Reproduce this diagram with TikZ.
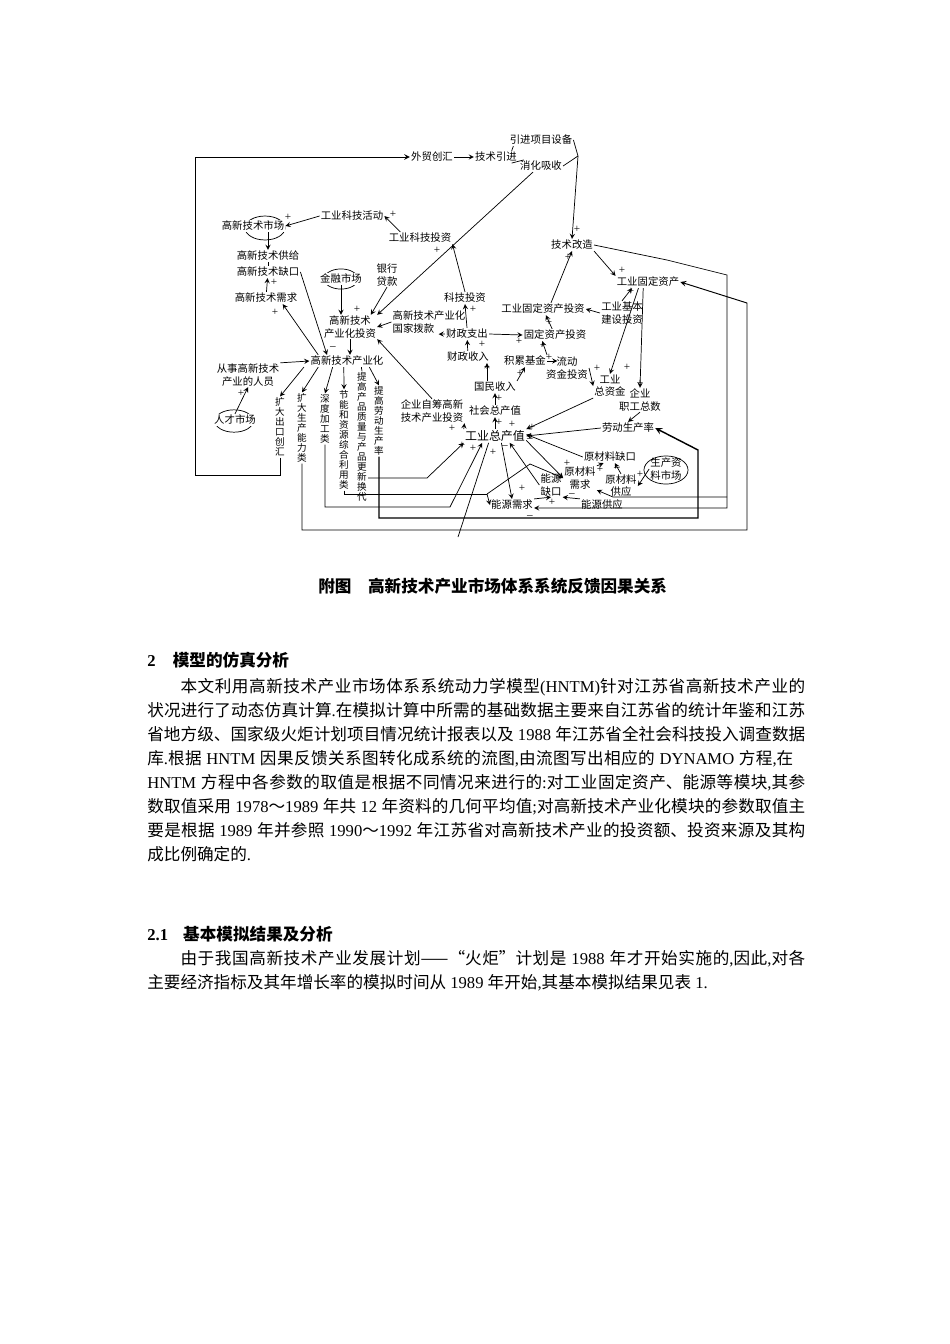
\documentclass[tikz,border=0pt]{standalone}
\usepackage{fontspec}
\setmainfont{Liberation Serif}
\newfontfamily\cjk{Noto Sans CJK SC}
\newXeTeXintercharclass\cjkcls
\newcount\cc
\cc="4E00
\loop\XeTeXcharclass\cc=\cjkcls\advance\cc by 1 \ifnum\cc<"A000 \repeat
\XeTeXinterchartoks\cjkcls\cjkcls={\hskip0pt plus 1pt\relax}
\XeTeXinterchartokenstate=1
\hbadness=10000
\newcommand{\lat}[1]{{\rmfamily #1}}
\newlength{\tw}\setlength{\tw}{412.1pt}

\begin{document}
\begin{tikzpicture}[x=0.6263pt,y=-0.6263pt,
    var/.style={font=\cjk\fontsize{6.5}{7.6}\selectfont,align=center,inner sep=0.6pt},
    vvar/.style={font=\cjk\fontsize{6}{6.25}\selectfont,align=center,inner sep=0.6pt},
    mkt/.style={var,fill=white},
    sgn/.style={font=\fontsize{7}{7}\selectfont,inner sep=0pt},
    lnk/.style={->,>=stealth,line width=0.45pt},
    wire/.style={line width=0.45pt},
    txt/.style={anchor=base west,inner sep=0pt,font=\cjk\fontsize{10.4}{12}\selectfont},
    hd/.style={txt,font=\cjk\bfseries\fontsize{10.4}{12}\selectfont}]

\useasboundingbox (0,0) rectangle (950,1344);

% markets
\draw[wire] (265,228) ellipse (12.5pt and 7.5pt);
\draw[wire] (341,279) ellipse (10.6pt and 6.3pt);
\draw[wire] (234,421) ellipse (12pt and 7pt);
\draw[wire] (666,470) ellipse (13.8pt and 8.8pt);

\node[var] (waimao) at (432,157) {外贸创汇};
\node[var] (jsyj) at (496,157) {技术引进};
\node[var] (yjsb) at (541,140) {引进项目设备};
\node[var] (xhxs) at (541,166) {消化吸收};
\node[var] (jsgz) at (572,245) {技术改造};
\node[var] (gygdzc) at (648,282) {工业固定资产};
\node[mkt] (gxjssc) at (253,226) {高新技术市场};
\node[var] (gykjhd) at (352,216) {工业科技活动};
\node[var] (gykjtz) at (420,238) {工业科技投资};
\node[var] (gxjsgj) at (268,256) {高新技术供给};
\node[var] (gxjsqk) at (268,272) {高新技术缺口};
\node[var] (gxjsxq) at (266,298) {高新技术需求};
\node[mkt] (jrsc) at (341,279) {金融市场};
\node[var] (yhdk) at (387,275) {银行\\贷款};
\node[var] (gxtz) at (350,327) {高新技术\\产业化投资};
\node[var,align=left] (gjbk) at (429,322) {高新技术产业化\\国家拨款};
\node[var] (kjtz) at (465,298) {科技投资};
\node[var] (czzc) at (467,334) {财政支出};
\node[var] (czsr) at (468,357) {财政收入};
\node[var] (gdzctz) at (543,309) {工业固定资产投资};
\node[var] (jbjs) at (622,313) {工业基本\\建设投资};
\node[var] (gdtz) at (555,335) {固定资产投资};
\node[var] (jljj) at (525,361) {积累基金};
\node[var] (ldzj) at (567,368) {流动\\资金投资};
\node[var] (gyzzj) at (610,386) {工业\\总资金};
\node[var] (qyzg) at (640,400) {企业\\职工总数};
\node[var] (gmsr) at (495,387) {国民收入};
\node[var] (shzcz) at (495,411) {社会总产值};
\node[var] (qyzc) at (432,411) {企业自筹高新\\技术产业投资};
\node[var,font=\cjk\fontsize{7.5}{8}\selectfont] (gyzcz) at (495,436) {工业总产值};
\node[var] (ldscl) at (628,428) {劳动生产率};
\node[var] (ycqk) at (610,457) {原材料缺口};
\node[var] (sczl) at (666,469) {生产资\\料市场};
\node[var] (ycxq) at (580,478) {原材料\\需求};
\node[var] (nyqk) at (551,485) {能源\\缺口};
\node[var] (ycgy) at (621,486) {原材料\\供应};
\node[var] (nyxq) at (512,505) {能源需求};
\node[var] (nygy) at (602,505) {能源供应};
\node[var] (gxcyh) at (347,361) {高新技术产业化};
\node[var] (csry) at (248,375) {从事高新技术\\产业的人员};
\node[mkt] (rcsc) at (235,420) {人才市场};
\node[vvar] (kdck) at (280,427) {扩\\大\\出\\口\\创\\汇};
\node[vvar] (kdsc) at (302,428) {扩\\大\\生\\产\\能\\力\\类};
\node[vvar] (sdjg) at (325,419) {深\\度\\加\\工\\类};
\node[vvar] (jnzy) at (344,440) {节\\能\\和\\资\\源\\综\\合\\利\\用\\类};
\node[vvar] (tgcp) at (362,437) {提\\高\\产\\品\\质\\量\\与\\产\\品\\更\\新\\换\\代};
\node[vvar] (tgld) at (379,421) {提\\高\\劳\\动\\生\\产\\率};

\coordinate (lp) at (195,475);
\coordinate (jn) at (578,156);
\coordinate (jr1) at (667,260);
\coordinate (jr2) at (727,275);
\coordinate (jr3) at (727,497);
\coordinate (jr4) at (727,508);
\coordinate (jr5) at (613,497);
\coordinate (ob1) at (747,530);
\coordinate (ob2) at (747,303);
\coordinate (lb1) at (698,518);
\coordinate (lb2) at (698,450);
\coordinate (pc1) at (427,478);
\coordinate (sd1) at (450,507);
\coordinate (jn1) at (487,494);
\coordinate (jn2) at (530,464);
\coordinate (dd) at (458,537);

% outer loops
\draw[lnk,line width=0.6pt] (kdck.south) |- (lp) |- (waimao.west);
\draw[lnk,line width=0.6pt] (kdsc.south) |- (ob1) -- (ob2) -- (gygdzc.east);
\draw[lnk,line width=0.9pt] (tgld.south) |- (lb1) -- (lb2) -- (ldscl.east);
\draw[lnk] (jsgz.east) -- (jr1) -- (jr2) -- (jr4) -- (jr4 -| nyxq.east);
\draw[lnk] (jr3) -- (jr5) -- (ycxq.south east);

\draw[lnk] (waimao) -- (jsyj);
\draw[wire] ([xshift=-4pt]jsyj.north east) -- ([xshift=3pt]yjsb.south west);
\draw[wire] ([xshift=-4pt]jsyj.south east) -- ([xshift=3pt]xhxs.north west);
\draw[wire] (yjsb.east) -- (jn);
\draw[wire] (xhxs.east) -- (jn);
\draw[lnk] (jn) -- (jsgz.north);
\draw[lnk] ([xshift=-5pt]xhxs.south) -- (gxtz.north east);
\draw[lnk] (kjtz.north) -- (gykjtz.south east);
\draw[lnk] ([xshift=8pt]gykjtz.north west) -- (gykjhd.east);
\draw[lnk] (gykjhd.west) -- (gxjssc.east);
\draw[lnk] (gxjssc.south -| gxjsgj) -- (gxjsgj.north);
\draw[wire] (gxjsgj) -- (gxjsqk);
\draw[lnk] (gxjsxq) -- (gxjsqk);
\draw[lnk] (gxjsqk.east) -- (gxcyh.163);
\draw[lnk] (gxcyh.168) -- (gxjsxq.-20);
\draw[lnk] (jrsc.south) -- (jrsc.south |- gxtz.north);
\draw[lnk] (yhdk.south) -- ([xshift=-4pt]gxtz.north east);
\draw[lnk] (gjbk.west) -- (gxtz.east);
\draw[lnk] (czzc.west) -- ([xshift=6pt]gjbk.south);
\draw[lnk] (gxtz.south) -- (gxtz.south |- gxcyh.north);
\draw[lnk] (qyzc.north) -- (gxtz.south east);
\draw[lnk] (czzc.north) -- (kjtz.south);
\draw[lnk] (czsr) -- (czzc);
\draw[lnk] (czzc.east) -- (gdtz.west);
\draw[lnk] ([xshift=-5pt]gmsr.north) -- ([xshift=-5pt]gmsr.north |- czsr.south);
\draw[lnk] (gmsr.north east) -- (jljj.south);
\draw[lnk] (jljj.north east) -- ([xshift=-8pt]gdtz.south);
\draw[lnk,shorten >=6pt] (jljj.east) -- (jljj.east -| ldzj.north);
\draw[lnk] (gdtz) -- (gdzctz);
\draw[lnk] (jbjs.west) -- (gdzctz.east);
\draw[lnk] ([xshift=5pt]gdzctz.north) -- (jsgz.south);
\draw[lnk] (jsgz.south east) -- (gygdzc.north west);
\draw[lnk] ([xshift=-3pt]gygdzc.south) -- (qyzg.north);
\draw[lnk] ([xshift=-6pt]gygdzc.south) -- (gyzzj.north);
\draw[lnk] (jbjs.north) -- ([xshift=-10pt]gygdzc.south);
\draw[lnk] (ldzj.east) -- (gyzzj.west);
\draw[lnk] (gyzzj.south west) -- (gyzcz.north east);
\draw[lnk] (ldscl.west) -- (gyzcz.east);
\draw[lnk] (qyzg.south) -- (ldscl.north);
\draw[lnk] (gyzcz.north) -- (shzcz.south);
\draw[lnk] (shzcz.north) -- (gmsr.south);
\draw[lnk] (gyzcz.north west) -- (qyzc.south east);
\draw[lnk] (ycqk.west) -- (gyzcz.3);
\draw[lnk] (gyzcz.-8) -- (ycxq.west);
\draw[lnk] (nyqk.west) -- (gyzcz.-25);
\draw[lnk] ([xshift=4pt]gyzcz.south) -- (nyxq.north);
\draw[wire] ([xshift=-4pt]gyzcz.south) -- (dd);
\draw[lnk] (tgcp.east |- pc1) -- (pc1) -- (gyzcz.south west);
\draw[lnk] (sdjg.south) |- (sd1) -- ([xshift=-8pt]gyzcz.south);
\draw[wire] (jnzy.south) |- (jn1);
\draw[lnk] (jn1) -- (jn2) -- (ycxq.west);
\draw[lnk] (jn1) -- (nyxq.west);
\draw[lnk] (nyxq.north east) -- (nyqk.south);
\draw[lnk] (nygy.north west) -- (nyqk.south east);
\draw[lnk] (ycxq.north east) -- ([xshift=-4pt]ycqk.south);
\draw[lnk] (ycgy.north) -- ([xshift=3pt]ycqk.south);
\draw[lnk] (sczl.west) -- (ycgy.east);
\draw[lnk] (csry.north east) -- (gxcyh.west);
\draw[lnk] (rcsc.north) -- (csry.south);
\draw[lnk] ([xshift=-27pt]gxcyh.south) -- (kdck.north);
\draw[lnk] ([xshift=-18pt]gxcyh.south) -- (kdsc.north);
\draw[lnk] ([xshift=-9pt]gxcyh.south) -- (sdjg.north);
\draw[lnk] ([xshift=-2pt]gxcyh.south) -- (jnzy.north);
\draw[wire] ([xshift=9pt]gxcyh.south) -- (tgcp.north);
\draw[lnk] ([xshift=14pt]gxcyh.south) -- (tgld.north);

% signs
\foreach \x/\y/\s [count=\i] in {577/229/+, 568/257/+, 622/270/+, 631/291/+, 288/217/+,
    393/214/+, 437/250/+, 274/282/+, 275/312/+, 357/309/+, 333/348/--, 473/309/+,
    482/344/+, 519/341/+, 543/345/+, 487/367/+, 520/373/+, 549/357/+, 549/322/+,
    597/368/+, 627/367/+, 640/383/+, 499/398/+, 499/422/+, 512/424/+, 532/427/+,
    452/428/+, 462/445/+, 473/448/+, 493/452/+, 505/447/--, 530/440/--, 567/463/+,
    600/469/+, 617/469/--, 640/474/+, 522/488/+, 552/502/+, 572/495/--, 530/517/--,
    241/393/+}
  \node[sgn] (sg\i) at (\x,\y) {\s};

% caption and text
\node[hd] (cap) at (318,592) {附图\hspace{1em}高新技术产业市场体系系统反馈因果关系};
\node[hd] (h2) at (147,666) {\makebox[16pt][l]{\lat{2}}模型的仿真分析};
\node[txt] (l1) at (147,692) {\hbox to \tw{\hspace*{20.8pt}本文利用高新技术产业市场体系系统动力学模型\lat{(HNTM)}针对江苏省高新技术产业的}};
\node[txt] (l2) at (147,716) {\hbox to \tw{状况进行了动态仿真计算\lat{.}在模拟计算中所需的基础数据主要来自江苏省的统计年鉴和江苏}};
\node[txt] (l3) at (147,740) {\hbox to \tw{省地方级、国家级火炬计划项目情况统计报表以及\lat{ 1988 }年江苏省全社会科技投入调查数据}};
\node[txt] (l4) at (147,764) {\hbox to 404.6pt{库\lat{.}根据\lat{ HNTM }因果反馈关系图转化成系统的流图\lat{,}由流图写出相应的\lat{ DYNAMO }方程\lat{,}在}};
\node[txt] (l5) at (147,788) {\hbox to \tw{\lat{HNTM }方程中各参数的取值是根据不同情况来进行的\lat{:}对工业固定资产、能源等模块\lat{,}其参}};
\node[txt] (l6) at (147,812) {\hbox to \tw{数取值采用\lat{ 1978}～\lat{1989 }年共\lat{ 12 }年资料的几何平均值\lat{;}对高新技术产业化模块的参数取值主}};
\node[txt] (l7) at (147,836) {\hbox to \tw{要是根据\lat{ 1989 }年并参照\lat{ 1990}～\lat{1992 }年江苏省对高新技术产业的投资额、投资来源及其构}};
\node[txt] (l8) at (147,860) {成比例确定的\lat{.}};
\node[hd] (h21) at (147,940) {\makebox[22.5pt][l]{\lat{2.1}}基本模拟结果及分析};
\node[txt] (m1) at (147,964) {\hbox to \tw{\hspace*{20.8pt}由于我国高新技术产业发展计划——“火炬”计划是\lat{ 1988 }年才开始实施的\lat{,}因此\lat{,}对各}};
\node[txt] (m2) at (147,988) {主要经济指标及其年增长率的模拟时间从\lat{ 1989 }年开始\lat{,}其基本模拟结果见表\lat{ 1.}};

\end{tikzpicture}
\end{document}
